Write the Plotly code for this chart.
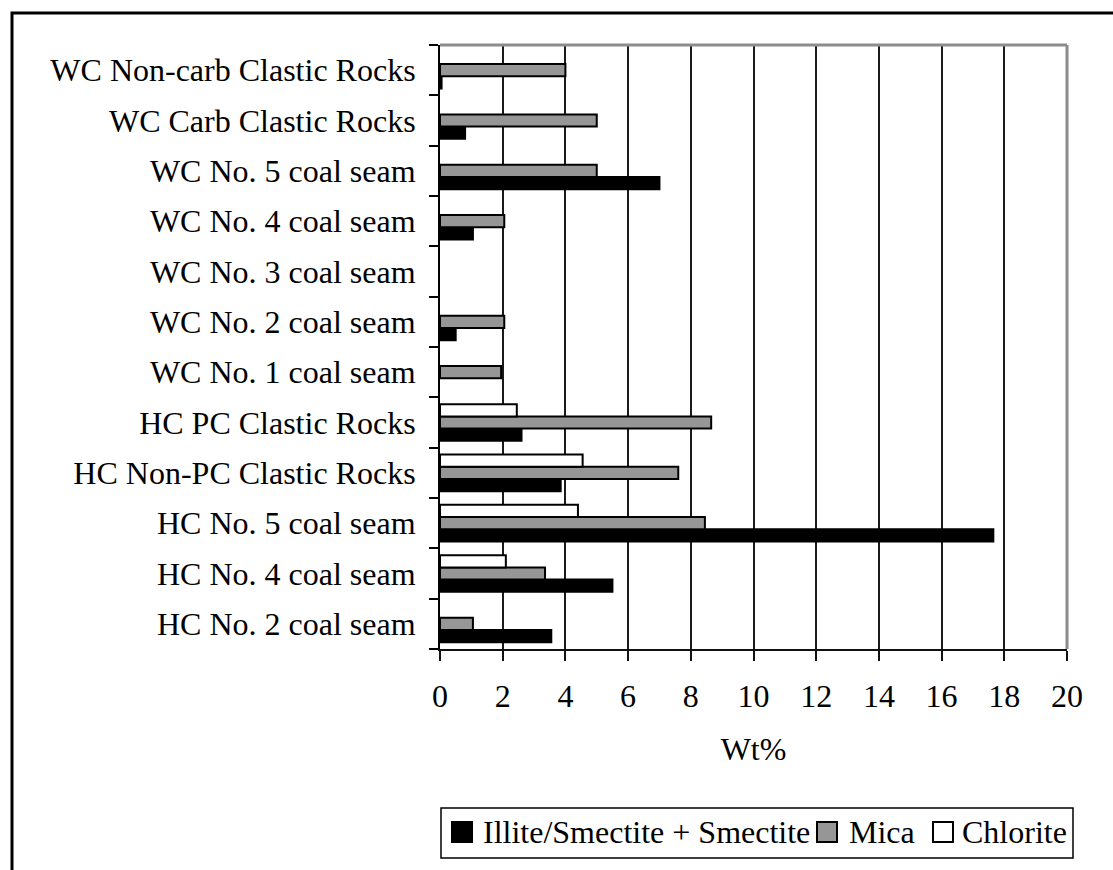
import plotly.graph_objects as go

# Sample groups, listed bottom to top as they appear on the category axis
categories = [
    "HC No. 2 coal seam",
    "HC No. 4 coal seam",
    "HC No. 5 coal seam",
    "HC Non-PC Clastic Rocks",
    "HC PC Clastic Rocks",
    "WC No. 1 coal seam",
    "WC No. 2 coal seam",
    "WC No. 3 coal seam",
    "WC No. 4 coal seam",
    "WC No. 5 coal seam",
    "WC Carb Clastic Rocks",
    "WC Non-carb Clastic Rocks",
]

# Clay mineral contents, Wt%
illite_smectite = [3.55, 5.5, 17.65, 3.85, 2.6, None, 0.5, None, 1.05, 7.0, 0.8, 0.05]
mica = [1.05, 3.35, 8.45, 7.6, 8.65, 1.95, 2.05, None, 2.05, 5.0, 5.0, 4.0]
chlorite = [None, 2.1, 4.4, 4.55, 2.45, None, None, None, None, None, None, None]

series_names = ["Illite/Smectite + Smectite", "Mica", "Chlorite"]
series_colors = ["#000000", "#969696", "#ffffff"]

x_ticks = list(range(0, 21, 2))

FONT = "Liberation Serif"
FS = 32

# Plot-area geometry in pixels
W, H = 1113, 870
L, R, T, B = 440, 46, 45, 221
PW, PH = W - L - R, H - T - B


def px(x):
    return (x - L) / PW


def py(y):
    return (H - B - y) / PH


fig = go.Figure()
for name, vals, color in zip(series_names, [illite_smectite, mica, chlorite], series_colors):
    fig.add_trace(go.Bar(
        y=categories, x=vals, name=name, orientation="h",
        marker=dict(color=color, line=dict(color="#000000", width=2)),
    ))

fig.update_layout(
    width=W, height=H,
    margin=dict(l=L, r=R, t=T, b=B),
    paper_bgcolor="white", plot_bgcolor="white",
    font=dict(family=FONT, size=FS, color="black"),
    barmode="group", bargap=0.27, bargroupgap=0,
    showlegend=False,
    xaxis=dict(
        range=[0, 20], tickvals=x_ticks, ticktext=[str(v) for v in x_ticks],
        tickfont=dict(family=FONT, size=FS),
        showgrid=True, gridcolor="#1a1a1a", gridwidth=1.7,
        showline=True, linecolor="#111111", linewidth=2,
        ticks="outside", ticklen=10, tickwidth=1.6, tickcolor="#111111",
        ticklabelstandoff=8,
        zeroline=False,
        title=dict(text="Wt%", font=dict(family=FONT, size=FS), standoff=24),
    ),
    yaxis=dict(
        categoryorder="array", categoryarray=categories,
        tickfont=dict(family=FONT, size=FS),
        showgrid=False, showline=True, linecolor="#000000", linewidth=2,
        ticks="outside", ticklen=9, tickwidth=1.6, tickcolor="#000000",
        tickson="boundaries", ticklabelstandoff=16,
    ),
)

# Grey frame along the top and right of the plotting area
fig.add_shape(type="line", xref="paper", yref="paper", x0=0, x1=1, y0=1, y1=1,
              line=dict(color="#8c8c8c", width=3))
fig.add_shape(type="line", xref="paper", yref="paper", x0=1, x1=1, y0=0, y1=1,
              line=dict(color="#8c8c8c", width=3))

# Outer chart border (right and bottom edges run off the page)
fig.add_shape(type="rect", xref="paper", yref="paper",
              x0=px(12), x1=px(1200), y0=py(960), y1=py(13),
              line=dict(color="#000000", width=3), layer="below")

# Legend box with swatches and labels
fig.add_shape(type="rect", xref="paper", yref="paper",
              x0=px(441), x1=px(1073), y0=py(858), y1=py(808),
              line=dict(color="#000000", width=1.5), fillcolor="white")
swatch_x = [452, 817, 933]
label_x = [481, 847, 960]
for name, color, sx, lx in zip(series_names, series_colors, swatch_x, label_x):
    fig.add_shape(type="rect", xref="paper", yref="paper",
                  x0=px(sx), x1=px(sx + 20), y0=py(842), y1=py(822),
                  line=dict(color="#000000", width=2), fillcolor=color)
    fig.add_annotation(text=name, xref="paper", yref="paper",
                       x=px(lx), y=py(832), xanchor="left", yanchor="middle",
                       showarrow=False, font=dict(family=FONT, size=FS, color="black"))

fig.write_html("out.html")
